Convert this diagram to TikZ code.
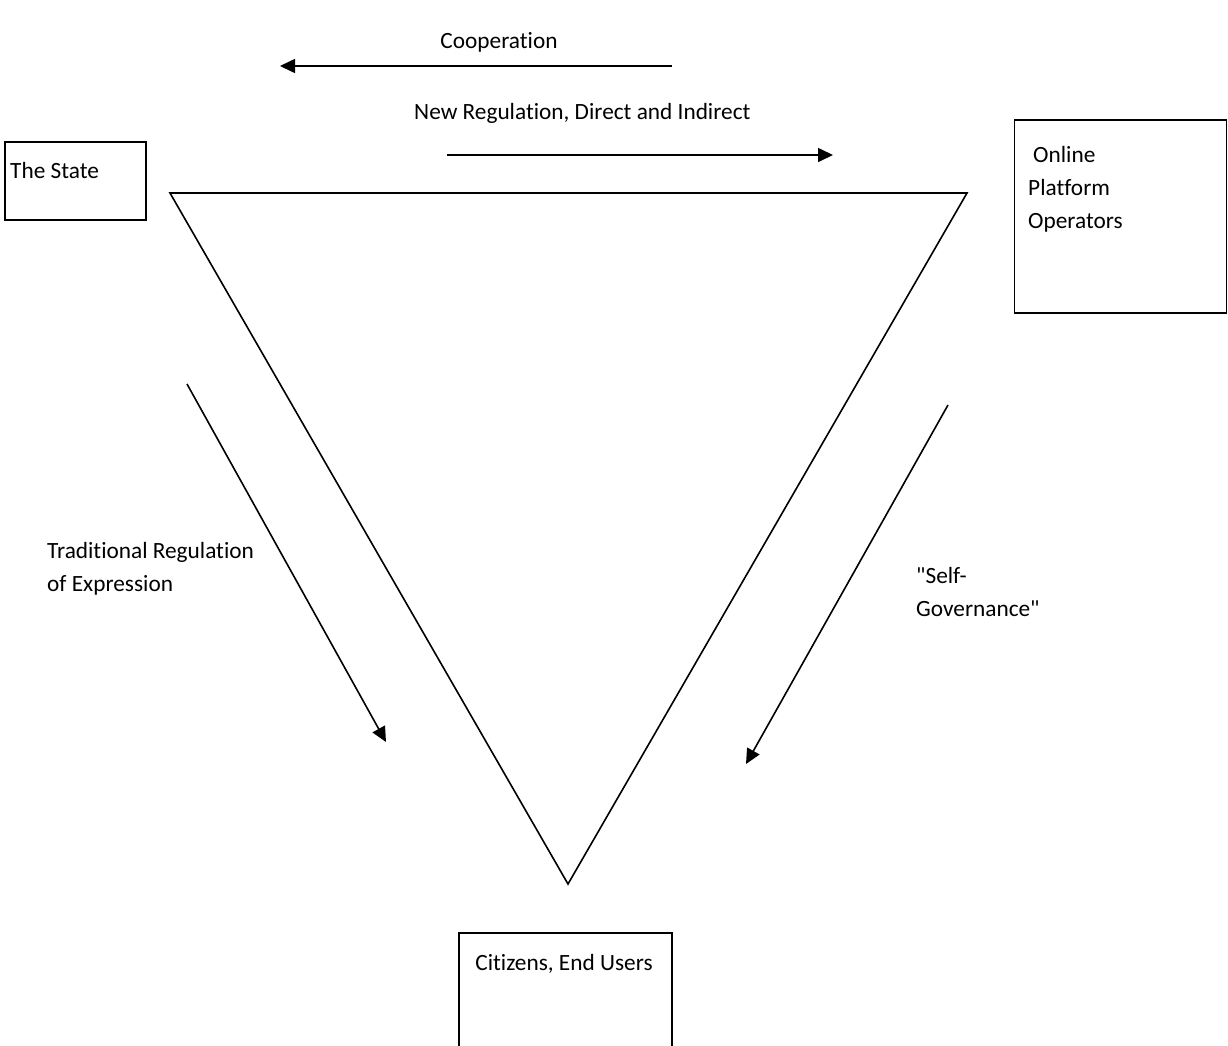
\documentclass[tikz,border=0pt]{standalone}
\usepackage{fontspec}
\setmainfont[Ligatures={TeXOff,CommonOff},RawFeature={-liga;-dlig;-clig}]{Carlito}
\usetikzlibrary{arrows.meta}
\begin{document}
\begin{tikzpicture}[x=1pt,y=-1pt,
  box/.style={draw,line width=1.6pt,inner sep=0pt},
  lbl/.style={anchor=base west,inner sep=0pt,font=\fontsize{23.3}{33}\selectfont},
  edge/.style={line width=1.6pt},
  flow/.style={line width=1.6pt,-{Triangle[length=15pt,width=14pt]}}]
\useasboundingbox (0,0) rectangle (1228,1045);
% boxes
\node[box,minimum width=141pt,minimum height=78pt] (state) at (75.5,181) {};
\node[box,minimum width=212pt,minimum height=193pt] (online) at (1120.5,216.5) {};
\node[box,minimum width=213pt,minimum height=120pt] (citizens) at (565.5,993) {};
% box texts
\node[lbl] (tstate) at (10,178) {The State};
\node[lbl] (tonline1) at (1033,162) {Online};
\node[lbl] (tonline2) at (1028,195) {Platform};
\node[lbl] (tonline3) at (1028,228) {Operators};
\node[lbl,anchor=base] (tcit) at (564,970) {Citizens, End Users};
% triangle
\coordinate (tl) at (170,193);
\coordinate (tr) at (967,193);
\coordinate (tb) at (568,884);
\draw[edge,line join=miter] (tl) -- (tr) -- (tb) -- cycle;
% arrows
\coordinate (coopS) at (672,66);
\coordinate (coopE) at (280,66);
\draw[flow] (coopS) -- (coopE);
\coordinate (regS) at (447,155);
\coordinate (regE) at (833,155);
\draw[flow] (regS) -- (regE);
\coordinate (tradS) at (187,384);
\coordinate (tradE) at (386,742);
\draw[flow] (tradS) -- (tradE);
\coordinate (selfS) at (948,405);
\coordinate (selfE) at (746,764);
\draw[flow] (selfS) -- (selfE);
% labels
\node[lbl,anchor=base] (lcoop) at (499,48) {Cooperation};
\node[lbl] (lreg) at (414,119) {New Regulation, Direct and Indirect};
\node[lbl] (ltrad1) at (47,558) {Traditional Regulation};
\node[lbl] (ltrad2) at (47,591) {of Expression};
\node[lbl] (lself1) at (916,583) {"Self-};
\node[lbl] (lself2) at (916,616) {Governance"};
\end{tikzpicture}
\end{document}
